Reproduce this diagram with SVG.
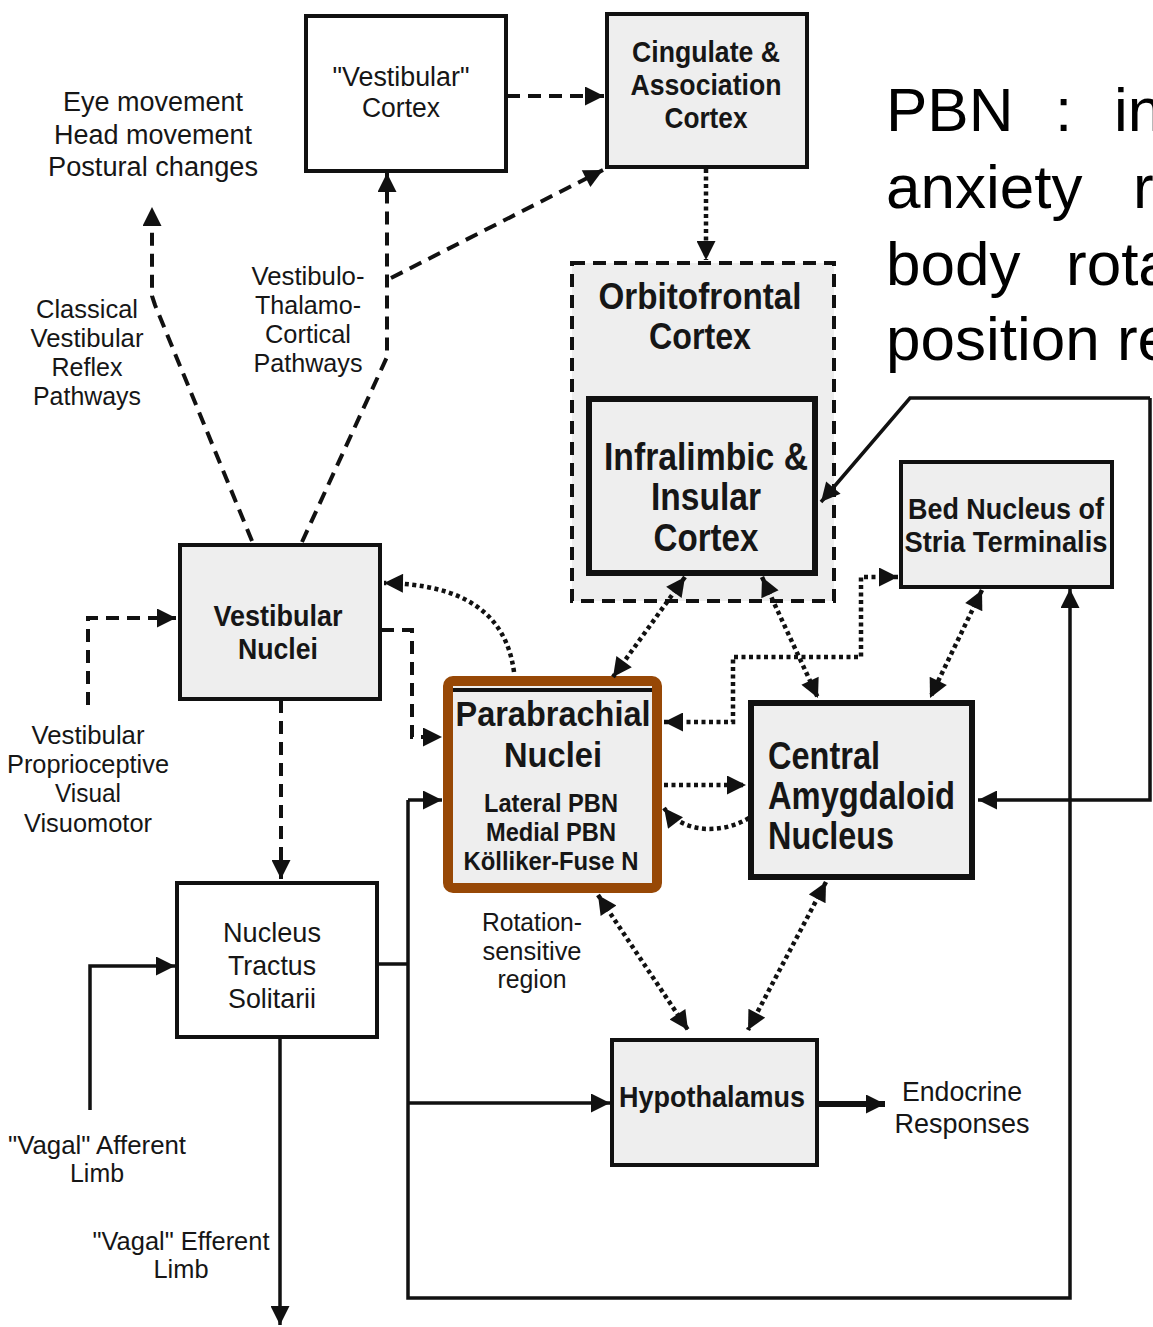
<svg xmlns="http://www.w3.org/2000/svg" width="1153" height="1327" viewBox="0 0 1153 1327">
  <defs>
    <marker id="ah" viewBox="0 0 10 10" refX="10" refY="5" markerWidth="21" markerHeight="19" markerUnits="userSpaceOnUse" orient="auto-start-reverse">
      <path d="M0,0 L10,5 L0,10 z" fill="#111"/>
    </marker>
    <style>
      text { font-family: "Liberation Sans", Arial, sans-serif; fill: #161616; }
      .c { text-anchor: middle; }
      .r { font-weight: normal; }
      .b { font-weight: bold; }
      .box { fill: #ffffff; stroke: #111; stroke-width: 4; }
      .grey { fill: #eeeeee; stroke: #111; stroke-width: 4; }
      .thick { stroke-width: 6; }
      .ln { fill: none; stroke: #111; stroke-width: 4; }
      .solid { stroke-width: 3.5; }
      .dash { stroke-dasharray: 13 8; }
      .dot { stroke-dasharray: 4 3.5; stroke-width: 4.5; }
      .arr { marker-end: url(#ah); }
      .both { marker-start: url(#ah); marker-end: url(#ah); }
      .note { font-size: 62px; fill: #000; }
    </style>
  </defs>

  <rect width="1153" height="1327" fill="#ffffff"/>

  <!-- free-standing labels -->
  <g id="motor-output">
    <text class="c r" font-size="27" x="153" y="111" textLength="180" lengthAdjust="spacingAndGlyphs">Eye movement</text>
    <text class="c r" font-size="27" x="153" y="144" textLength="198" lengthAdjust="spacingAndGlyphs">Head movement</text>
    <text class="c r" font-size="27" x="153" y="176" textLength="210" lengthAdjust="spacingAndGlyphs">Postural changes</text>
  </g>
  <g id="classical-label">
    <text class="c r" font-size="26" x="87" y="318" textLength="102" lengthAdjust="spacingAndGlyphs">Classical</text>
    <text class="c r" font-size="26" x="87" y="347" textLength="113" lengthAdjust="spacingAndGlyphs">Vestibular</text>
    <text class="c r" font-size="26" x="87" y="376" textLength="71" lengthAdjust="spacingAndGlyphs">Reflex</text>
    <text class="c r" font-size="26" x="87" y="405" textLength="108" lengthAdjust="spacingAndGlyphs">Pathways</text>
  </g>
  <g id="vtc-label">
    <text class="c r" font-size="26" x="308" y="285" textLength="113" lengthAdjust="spacingAndGlyphs">Vestibulo-</text>
    <text class="c r" font-size="26" x="308" y="314" textLength="106" lengthAdjust="spacingAndGlyphs">Thalamo-</text>
    <text class="c r" font-size="26" x="308" y="343" textLength="86" lengthAdjust="spacingAndGlyphs">Cortical</text>
    <text class="c r" font-size="26" x="308" y="372" textLength="109" lengthAdjust="spacingAndGlyphs">Pathways</text>
  </g>
  <g id="sensory-input">
    <text class="c r" font-size="26" x="88" y="744" textLength="113" lengthAdjust="spacingAndGlyphs">Vestibular</text>
    <text class="c r" font-size="26" x="88" y="773" textLength="162" lengthAdjust="spacingAndGlyphs">Proprioceptive</text>
    <text class="c r" font-size="26" x="88" y="802" textLength="66" lengthAdjust="spacingAndGlyphs">Visual</text>
    <text class="c r" font-size="26" x="88" y="832" textLength="128" lengthAdjust="spacingAndGlyphs">Visuomotor</text>
  </g>
  <g id="rotation-label">
    <text class="c r" font-size="26" x="532" y="931" textLength="100" lengthAdjust="spacingAndGlyphs">Rotation-</text>
    <text class="c r" font-size="26" x="532" y="960" textLength="99" lengthAdjust="spacingAndGlyphs">sensitive</text>
    <text class="c r" font-size="26" x="532" y="988" textLength="69" lengthAdjust="spacingAndGlyphs">region</text>
  </g>
  <g id="endocrine">
    <text class="c r" font-size="27" x="962" y="1101" textLength="120" lengthAdjust="spacingAndGlyphs">Endocrine</text>
    <text class="c r" font-size="27" x="962" y="1133" textLength="135" lengthAdjust="spacingAndGlyphs">Responses</text>
  </g>
  <g id="vagal-afferent">
    <text class="c r" font-size="25" x="97" y="1154" textLength="178" lengthAdjust="spacingAndGlyphs">"Vagal" Afferent</text>
    <text class="c r" font-size="25" x="97" y="1182" textLength="54" lengthAdjust="spacingAndGlyphs">Limb</text>
  </g>
  <g id="vagal-efferent">
    <text class="c r" font-size="25" x="181" y="1250" textLength="177" lengthAdjust="spacingAndGlyphs">"Vagal" Efferent</text>
    <text class="c r" font-size="25" x="181" y="1278" textLength="55" lengthAdjust="spacingAndGlyphs">Limb</text>
  </g>

  <!-- nodes -->
  <g id="vestibular-cortex">
    <rect class="box" x="306" y="16" width="200" height="155"/>
    <text class="c r" font-size="27" x="401" y="86" textLength="137" lengthAdjust="spacingAndGlyphs">"Vestibular"</text>
    <text class="c r" font-size="27" x="401" y="117" textLength="78" lengthAdjust="spacingAndGlyphs">Cortex</text>
  </g>
  <g id="cingulate-cortex">
    <rect class="grey" x="607" y="14" width="200" height="153"/>
    <text class="c b" font-size="30" x="706" y="62" textLength="148" lengthAdjust="spacingAndGlyphs">Cingulate &amp;</text>
    <text class="c b" font-size="30" x="706" y="95" textLength="151" lengthAdjust="spacingAndGlyphs">Association</text>
    <text class="c b" font-size="30" x="706" y="128" textLength="83" lengthAdjust="spacingAndGlyphs">Cortex</text>
  </g>
  <g id="orbitofrontal-cortex">
    <rect class="ln dash" x="572" y="263" width="262" height="338" style="fill:#eeeeee"/>
    <text class="c b" font-size="37" x="700" y="309" textLength="203" lengthAdjust="spacingAndGlyphs">Orbitofrontal</text>
    <text class="c b" font-size="37" x="700" y="349" textLength="102" lengthAdjust="spacingAndGlyphs">Cortex</text>
  </g>
  <g id="infralimbic-insular-cortex">
    <rect class="grey thick" x="589" y="399" width="226" height="174"/>
    <text class="c b" font-size="38" x="706" y="470" textLength="204" lengthAdjust="spacingAndGlyphs">Infralimbic &amp;</text>
    <text class="c b" font-size="38" x="706" y="510" textLength="110" lengthAdjust="spacingAndGlyphs">Insular</text>
    <text class="c b" font-size="38" x="706" y="551" textLength="105" lengthAdjust="spacingAndGlyphs">Cortex</text>
  </g>
  <g id="bed-nucleus">
    <rect class="grey" x="901" y="462" width="211" height="125"/>
    <text class="c b" font-size="29" x="1006" y="519" textLength="196" lengthAdjust="spacingAndGlyphs">Bed Nucleus of</text>
    <text class="c b" font-size="29" x="1006" y="552" textLength="203" lengthAdjust="spacingAndGlyphs">Stria Terminalis</text>
  </g>
  <g id="vestibular-nuclei">
    <rect class="grey" x="180" y="545" width="200" height="154"/>
    <text class="c b" font-size="30" x="278" y="626" textLength="129" lengthAdjust="spacingAndGlyphs">Vestibular</text>
    <text class="c b" font-size="30" x="278" y="659" textLength="80" lengthAdjust="spacingAndGlyphs">Nuclei</text>
  </g>
  <g id="parabrachial-nuclei">
    <rect x="448" y="681" width="209" height="207" fill="#eeeeee"/>
    <line x1="452" y1="690" x2="653" y2="690" stroke="#111" stroke-width="4"/>
    <rect x="448" y="681" width="209" height="207" rx="5" fill="none" stroke="#974806" stroke-width="10"/>
    <text class="c b" font-size="35" x="553" y="726" textLength="195" lengthAdjust="spacingAndGlyphs">Parabrachial</text>
    <text class="c b" font-size="35" x="553" y="767" textLength="98" lengthAdjust="spacingAndGlyphs">Nuclei</text>
    <text class="c b" font-size="25" x="551" y="812" textLength="134" lengthAdjust="spacingAndGlyphs">Lateral PBN</text>
    <text class="c b" font-size="25" x="551" y="841" textLength="130" lengthAdjust="spacingAndGlyphs">Medial PBN</text>
    <text class="c b" font-size="25" x="551" y="870" textLength="175" lengthAdjust="spacingAndGlyphs">Kölliker-Fuse N</text>
  </g>
  <g id="central-amygdala">
    <rect class="grey thick" x="751" y="703" width="221" height="174"/>
    <text class="b" font-size="38" x="768" y="769" textLength="112" lengthAdjust="spacingAndGlyphs">Central</text>
    <text class="b" font-size="38" x="768" y="809" textLength="187" lengthAdjust="spacingAndGlyphs">Amygdaloid</text>
    <text class="b" font-size="38" x="768" y="849" textLength="126" lengthAdjust="spacingAndGlyphs">Nucleus</text>
  </g>
  <g id="nucleus-tractus-solitarii">
    <rect class="box" x="177" y="883" width="200" height="154"/>
    <text class="c r" font-size="28" x="272" y="942" textLength="98" lengthAdjust="spacingAndGlyphs">Nucleus</text>
    <text class="c r" font-size="28" x="272" y="975" textLength="88" lengthAdjust="spacingAndGlyphs">Tractus</text>
    <text class="c r" font-size="28" x="272" y="1008" textLength="88" lengthAdjust="spacingAndGlyphs">Solitarii</text>
  </g>
  <g id="hypothalamus">
    <rect class="grey" x="612" y="1040" width="205" height="125"/>
    <text class="c b" font-size="29" x="712" y="1107" textLength="186" lengthAdjust="spacingAndGlyphs">Hypothalamus</text>
  </g>

  <!-- connectors -->
  <g id="connectors">
    <!-- dashed: vestibular pathways -->
    <path class="ln dash arr" d="M507,96 H604"/>
    <path class="ln dash arr" d="M302,542 L387,357 V173"/>
    <path class="ln dash arr" d="M391,278 L603,170"/>
    <path class="ln dash arr" d="M252,541 L155,305 L152,296 V207"/>
    <path class="ln dash arr" d="M281,700 V879"/>
    <path class="ln dash arr" d="M88,705 V618 H176"/>
    <path class="ln dash arr" d="M381,630 H412 V737 H442"/>

    <!-- dotted: limbic interconnections -->
    <path class="ln dot arr" d="M706,169 V260"/>
    <path class="ln dot arr" d="M514,672 C506,612 462,584 384,583"/>
    <path class="ln dot both" d="M685,577 L613,677"/>
    <path class="ln dot both" d="M762,577 L818,698"/>
    <path class="ln dot both" d="M982,590 L930,698"/>
    <path class="ln dot both" d="M664,722 H733 V657 H861 V577 H898"/>
    <path class="ln dot arr" d="M664,785 H746"/>
    <path class="ln dot arr" d="M749,818 C722,834 684,834 664,808"/>
    <path class="ln dot both" d="M598,895 L688,1030"/>
    <path class="ln dot both" d="M826,882 L748,1030"/>

    <!-- solid: visceral pathways -->
    <path class="ln solid arr" d="M1150,398 H910 L821,502"/>
    <path class="ln solid arr" d="M1150,398 V800 H978"/>
    <path class="ln solid" d="M377,964 H408"/>
    <path class="ln solid arr" d="M408,1103 V1298 H1070 V589"/>
    <path class="ln solid" d="M408,800 V1103"/>
    <path class="ln solid arr" d="M408,800 H442"/>
    <path class="ln solid arr" d="M408,1103 H610"/>
    <path class="ln solid arr" d="M280,1038 V1325"/>
    <path class="ln solid arr" d="M90,1110 V966 H175"/>
    <path class="ln arr" style="stroke-width:6" d="M818,1104 H885"/>
  </g>

  <!-- side note, running past the right edge -->
  <g id="pbn-note">
    <text class="note" x="886" y="131">PBN</text>
    <text class="note" x="1055" y="131">:</text>
    <text class="note" x="1114" y="131">in</text>
    <text class="note" x="886" y="208">anxiety</text>
    <text class="note" x="1133" y="208">r</text>
    <text class="note" x="886" y="285">body</text>
    <text class="note" x="1066" y="285">rota</text>
    <text class="note" x="886" y="360">position re</text>
  </g>
</svg>
